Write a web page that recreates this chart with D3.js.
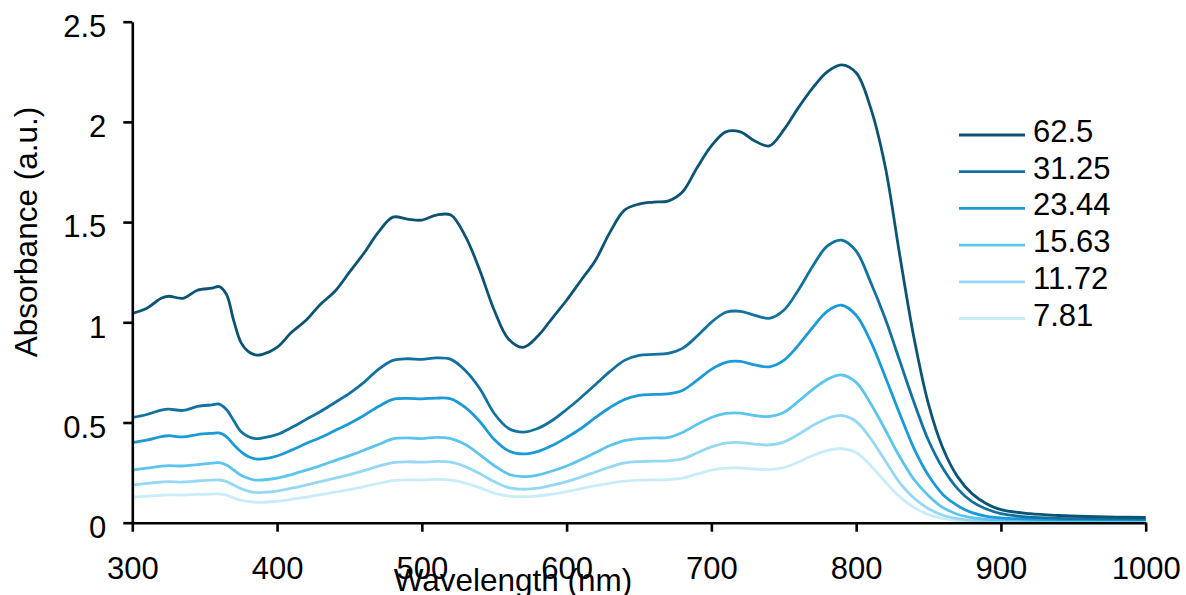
<!DOCTYPE html>
<html>
<head>
<meta charset="utf-8">
<script src="https://cdn.jsdelivr.net/npm/d3@7"></script>
<style>
  body { margin: 0; background: #fff; }
  text { font-family: "Liberation Sans", Arial, sans-serif; fill: #000; }
</style>
</head>
<body>
<script>
// dimensions
var width = 1186, height = 595;
var margin = { left: 132.3, top: 21.7, right: 40, bottom: 72.3 };
var plotW = 1145.7 - margin.left, plotH = 522.7 - margin.top;

// wavelength grid (nm)
var wavelengths = [300, 310, 320, 325, 335, 345, 355, 360, 365, 370, 375, 380, 385, 390, 400, 410, 420, 430, 440, 450,
  460, 470, 480, 490, 500, 510, 520, 530, 540, 550, 560, 570, 580, 590, 600, 610, 620, 630, 640, 650,
  660, 670, 680, 690, 700, 710, 720, 730, 740, 750, 760, 770, 780, 790, 800, 810, 820, 830, 840, 850,
  860, 870, 880, 890, 900, 920, 940, 960, 980, 1000];

// absorbance per concentration
var abs625 = [1.045, 1.07, 1.12, 1.13, 1.12, 1.16, 1.17, 1.178, 1.14, 1.01, 0.9, 0.855, 0.837, 0.84, 0.875, 0.95, 1.01, 1.09, 1.155, 1.25,
  1.345, 1.45, 1.525, 1.515, 1.51, 1.535, 1.535, 1.43, 1.26, 1.06, 0.915, 0.875, 0.93, 1.02, 1.11, 1.21, 1.31, 1.45, 1.56, 1.59,
  1.6, 1.605, 1.65, 1.77, 1.88, 1.95, 1.95, 1.905, 1.88, 1.96, 2.07, 2.17, 2.25, 2.285, 2.245, 2.07, 1.78, 1.34, 0.92, 0.59,
  0.37, 0.23, 0.145, 0.095, 0.065, 0.045, 0.036, 0.031, 0.028, 0.026];
var abs3125 = [0.525, 0.54, 0.562, 0.567, 0.56, 0.58, 0.588, 0.592, 0.565, 0.51, 0.455, 0.43, 0.42, 0.423, 0.44, 0.475, 0.515, 0.555, 0.6, 0.645,
  0.7, 0.765, 0.81, 0.818, 0.815, 0.822, 0.815, 0.76, 0.67, 0.545, 0.47, 0.452, 0.47, 0.51, 0.565, 0.625, 0.69, 0.755, 0.81, 0.835,
  0.84, 0.845, 0.87, 0.93, 1.0, 1.05, 1.055, 1.035, 1.02, 1.06, 1.16, 1.28, 1.38, 1.41, 1.355, 1.2, 1.02, 0.81, 0.6, 0.41,
  0.27, 0.17, 0.105, 0.068, 0.045, 0.028, 0.022, 0.02, 0.019, 0.018];
var abs2344 = [0.4, 0.412, 0.43, 0.434, 0.428, 0.44, 0.446, 0.448, 0.43, 0.39, 0.355, 0.33, 0.318, 0.318, 0.333, 0.362, 0.395, 0.425, 0.46, 0.495,
  0.535, 0.58, 0.615, 0.62, 0.618, 0.622, 0.618, 0.575, 0.505, 0.415, 0.358, 0.343, 0.355, 0.385, 0.425, 0.47, 0.525, 0.575, 0.615, 0.635,
  0.64, 0.643, 0.66, 0.71, 0.765, 0.8, 0.805, 0.787, 0.778, 0.81, 0.885, 0.975, 1.055, 1.085, 1.035, 0.905, 0.73, 0.545, 0.37, 0.235,
  0.14, 0.085, 0.05, 0.032, 0.024, 0.018, 0.016, 0.015, 0.015, 0.015];
var abs1563 = [0.263, 0.272, 0.282, 0.285, 0.283, 0.29, 0.297, 0.3, 0.288, 0.263, 0.237, 0.222, 0.213, 0.213, 0.222, 0.24, 0.262, 0.285, 0.31, 0.335,
  0.362, 0.39, 0.418, 0.423, 0.42, 0.426, 0.42, 0.39, 0.34, 0.285, 0.242, 0.23, 0.238, 0.258, 0.283, 0.315, 0.35, 0.385, 0.41, 0.42,
  0.423, 0.425, 0.45, 0.49, 0.525, 0.545, 0.547, 0.535, 0.53, 0.55, 0.605, 0.665, 0.715, 0.737, 0.7, 0.595, 0.465, 0.33, 0.215, 0.135,
  0.075, 0.042, 0.025, 0.017, 0.014, 0.012, 0.012, 0.012, 0.012, 0.012];
var abs1172 = [0.188, 0.196, 0.203, 0.205, 0.203, 0.208, 0.212, 0.213, 0.205, 0.188, 0.17, 0.158, 0.151, 0.151, 0.158, 0.172, 0.188, 0.205, 0.222, 0.24,
  0.26, 0.282, 0.3, 0.304, 0.302, 0.306, 0.302, 0.28, 0.245, 0.205, 0.175, 0.167, 0.172, 0.187, 0.205, 0.228, 0.253, 0.278, 0.298, 0.305,
  0.307, 0.309, 0.318, 0.348, 0.378, 0.397, 0.4, 0.392, 0.388, 0.402, 0.44, 0.485, 0.52, 0.535, 0.505, 0.42, 0.31, 0.2, 0.122, 0.07,
  0.037, 0.02, 0.012, 0.01, 0.009, 0.009, 0.009, 0.009, 0.009, 0.009];
var abs781 = [0.127, 0.132, 0.137, 0.139, 0.138, 0.141, 0.143, 0.144, 0.138, 0.124, 0.112, 0.106, 0.102, 0.102, 0.107, 0.117, 0.128, 0.14, 0.152, 0.165,
  0.18, 0.196, 0.21, 0.214, 0.213, 0.216, 0.213, 0.198, 0.175, 0.148, 0.133, 0.13, 0.133, 0.143, 0.155, 0.17, 0.185, 0.198, 0.207, 0.212,
  0.214, 0.215, 0.222, 0.242, 0.262, 0.272, 0.273, 0.268, 0.265, 0.275, 0.302, 0.335, 0.36, 0.37, 0.35, 0.285, 0.205, 0.13, 0.075, 0.04,
  0.02, 0.01, 0.006, 0.006, 0.006, 0.006, 0.006, 0.006, 0.006, 0.006];

var seriesNames = ["62.5", "31.25", "23.44", "15.63", "11.72", "7.81"];
var seriesValues = [abs625, abs3125, abs2344, abs1563, abs1172, abs781];
var colors = ["#0c5473", "#1172a0", "#1a9ad6", "#5bc5ee", "#95d8f4", "#c9ecf9"];

var xTicks = [300, 400, 500, 600, 700, 800, 900, 1000];
var yTicks = [0, 0.5, 1, 1.5, 2, 2.5];

var svg = d3.select("body").append("svg")
  .attr("width", width)
  .attr("height", height);

var g = svg.append("g")
  .attr("transform", "translate(" + margin.left + "," + margin.top + ")");

// scales
var x = d3.scaleLinear().domain([300, 1000]).range([0, plotW]);
var y = d3.scaleLinear().domain([0, 2.5]).range([plotH, 0]);

// lines (lightest first so the dark one sits on top)
var line = d3.line()
  .x(function (d) { return x(d[0]); })
  .y(function (d) { return y(d[1]); })
  .curve(d3.curveCatmullRom.alpha(0.5));

for (var i = seriesNames.length - 1; i >= 0; i--) {
  var pts = wavelengths.map(function (w, j) { return [w, seriesValues[i][j]]; });
  g.append("path")
    .datum(pts)
    .attr("fill", "none")
    .attr("stroke", colors[i])
    .attr("stroke-width", 2.8)
    .attr("stroke-linejoin", "round")
    .attr("d", line);
}

// axes
var yAxis = d3.axisLeft(y).tickValues(yTicks).tickSize(9).tickSizeOuter(0).tickPadding(17)
  .tickFormat(function (d) { return d; });
var xAxis = d3.axisBottom(x).tickValues(xTicks).tickSize(9).tickSizeOuter(0).tickPadding(25)
  .tickFormat(d3.format("d"));

var gy = g.append("g").call(yAxis);
var gx = g.append("g").attr("transform", "translate(0," + plotH + ")").call(xAxis);

[gx, gy].forEach(function (ax) {
  ax.select(".domain").attr("stroke", "#000").attr("stroke-width", 2.6);
  ax.selectAll(".tick line").attr("stroke", "#000").attr("stroke-width", 2.6);
  ax.selectAll(".tick text")
    .attr("fill", "#000")
    .style("font-family", "'Liberation Sans', Arial, sans-serif")
    .style("font-size", "31px");
});
gy.selectAll(".tick text").attr("dy", "0.48em");

// axis titles
svg.append("text")
  .attr("x", 513)
  .attr("y", 591)
  .attr("text-anchor", "middle")
  .style("font-size", "31.5px")
  .text("Wavelength (nm)");

svg.append("text")
  .attr("transform", "translate(37,232) rotate(-90)")
  .attr("text-anchor", "middle")
  .style("font-size", "31.5px")
  .text("Absorbance (a.u.)");

// legend
var legend = svg.append("g");
seriesNames.forEach(function (name, i) {
  var ly = 135 + i * 36.7;
  legend.append("line")
    .attr("x1", 959).attr("x2", 1025)
    .attr("y1", ly).attr("y2", ly)
    .attr("stroke", colors[i])
    .attr("stroke-width", 2.8);
  legend.append("text")
    .attr("x", 1033)
    .attr("y", ly + 7)
    .style("font-size", "31px")
    .text(name);
});
</script>
</body>
</html>
